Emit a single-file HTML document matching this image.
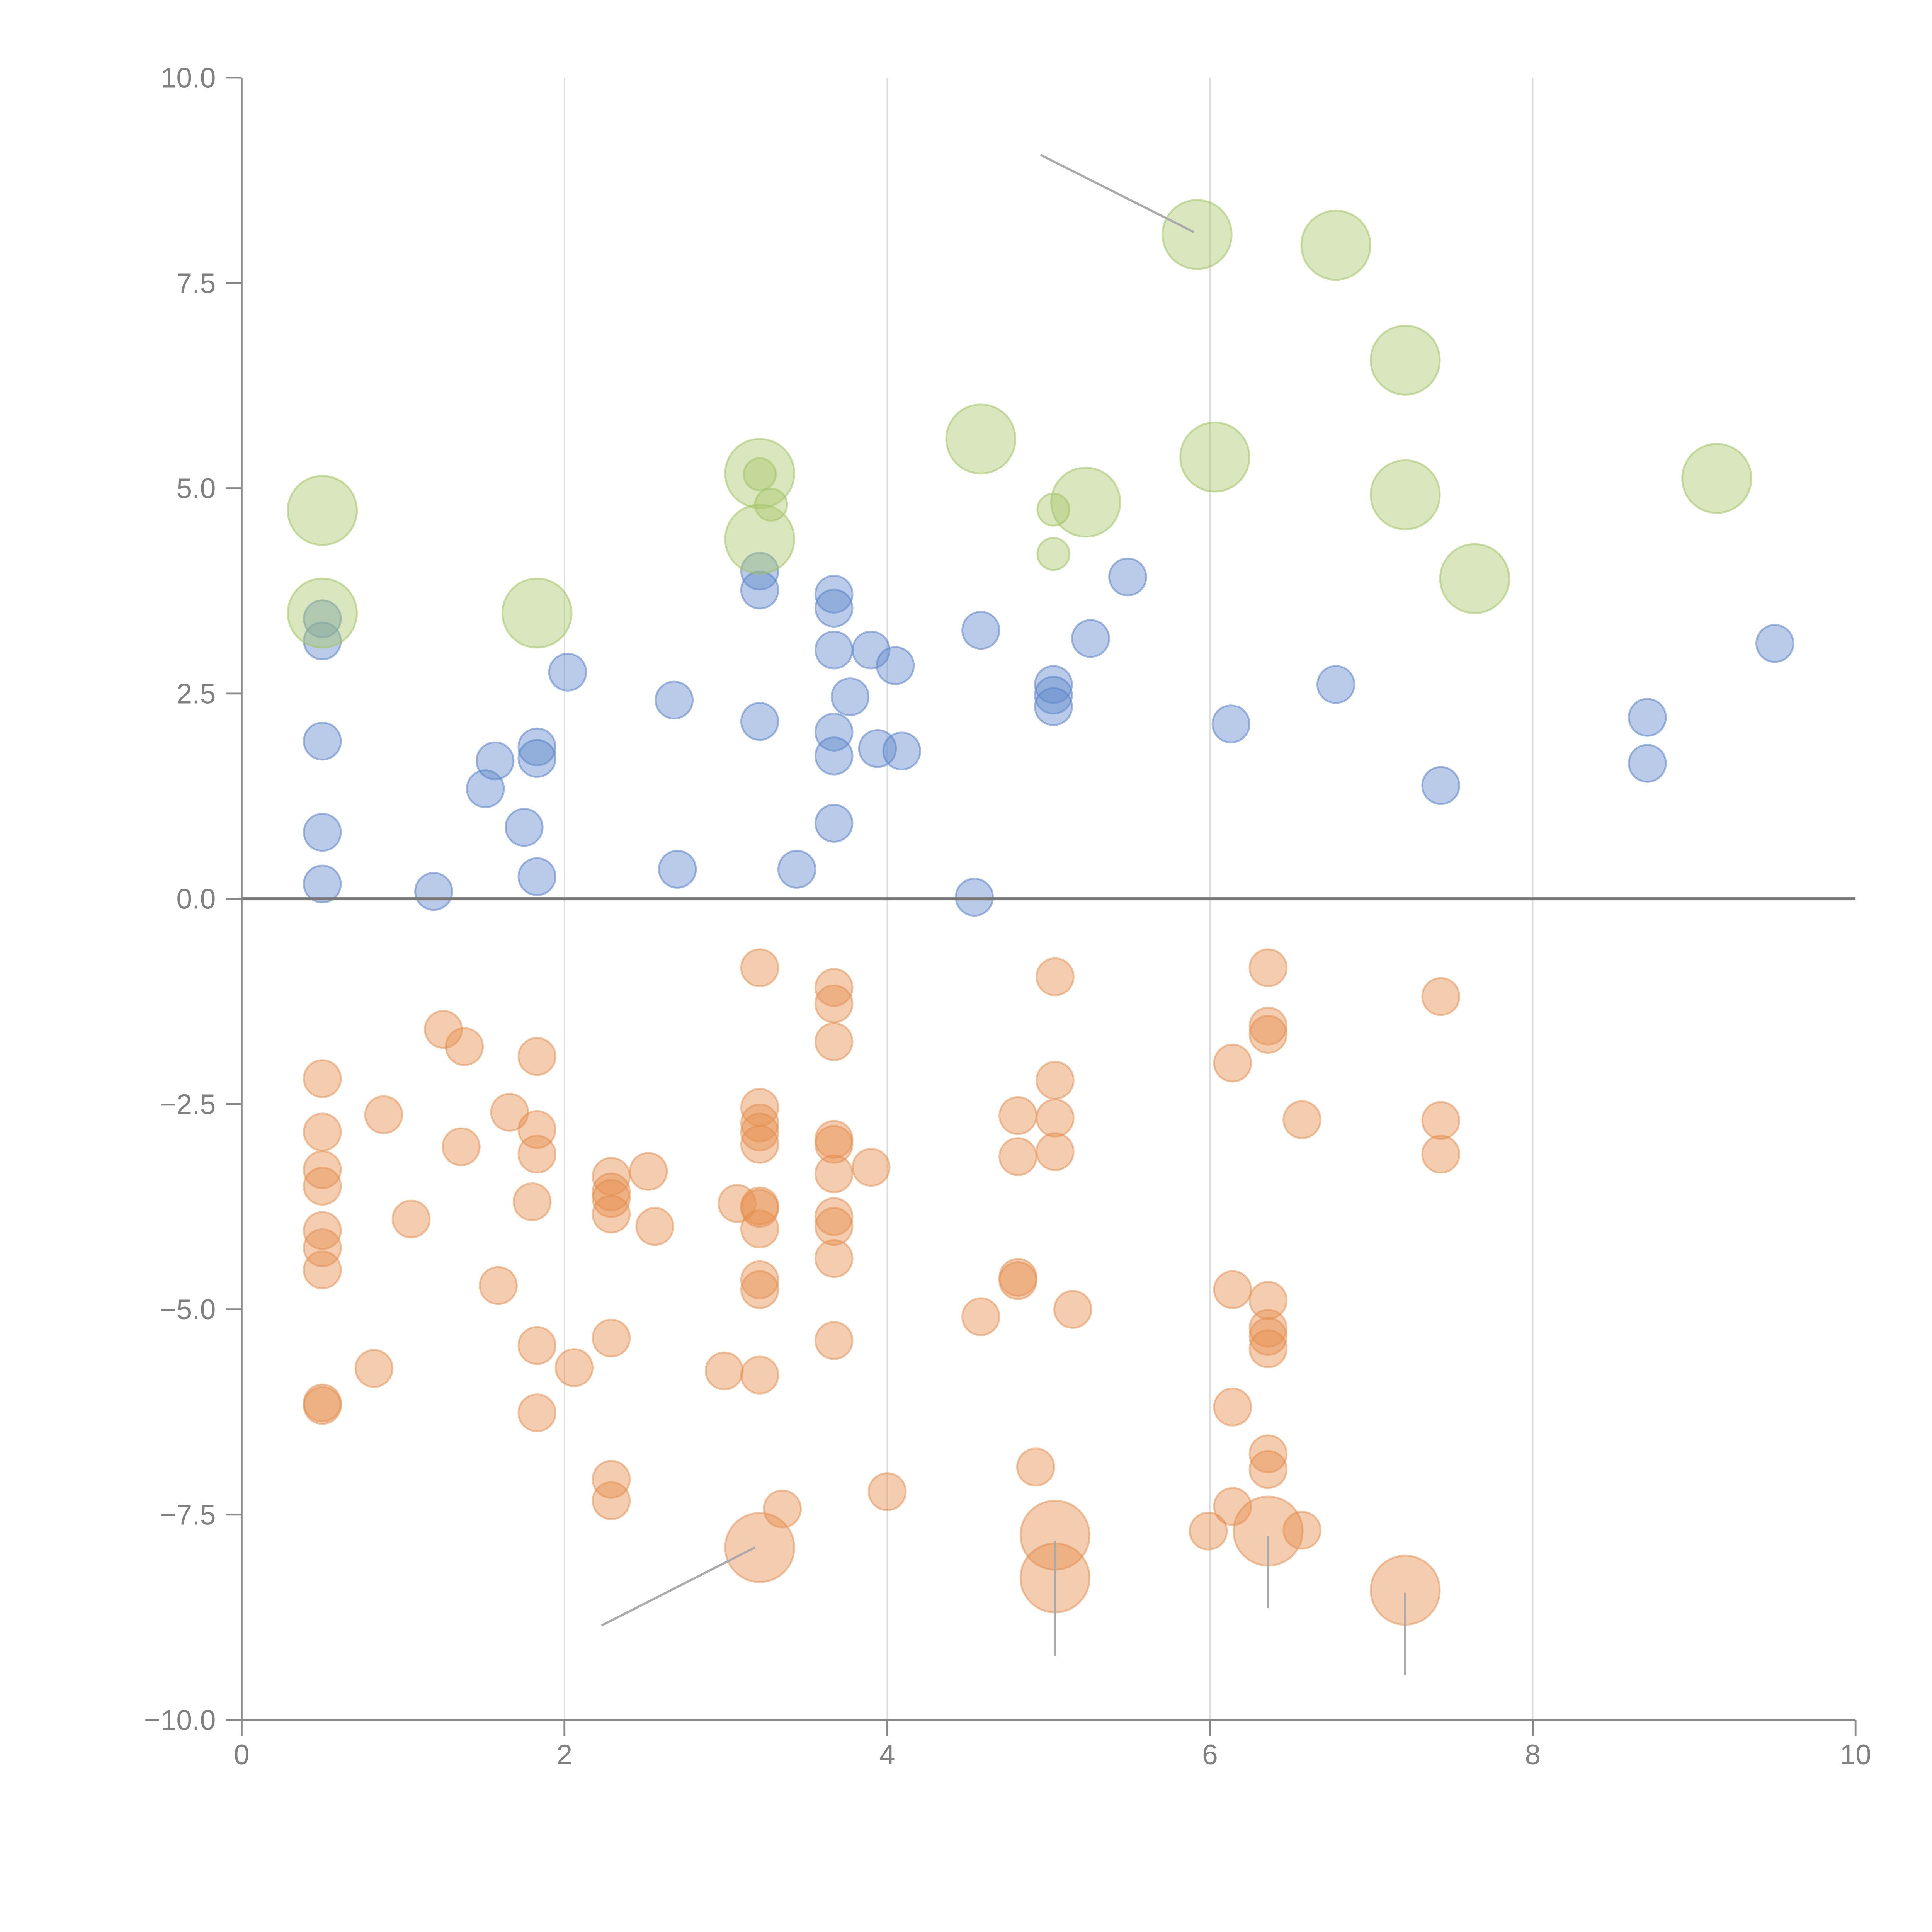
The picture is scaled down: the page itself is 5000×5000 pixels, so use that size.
<!DOCTYPE html>
<html><head><meta charset="utf-8"><style>html,body{margin:0;padding:0;background:#fff}svg{display:block}</style></head>
<body>
<svg id="chart" width="5000" height="5000" viewBox="0 0 1567 1567" xmlns="http://www.w3.org/2000/svg" font-family="Liberation Sans, sans-serif">
<rect width="1567" height="1567" fill="#fff"/>
<g id="grid"></g><g id="marks"></g><g id="axes"></g>
</svg>
<script>
const xTicks=[0,2,4,6,8,10];
const yTicks=[10,7.5,5,2.5,0,-2.5,-5,-7.5,-10];
const yTickLabels=["10.0","7.5","5.0","2.5","0.0","\u22122.5","\u22125.0","\u22127.5","\u221210.0"];
const blueX=[0.5,0.5,0.5,0.5,0.5,1.19,1.51,1.57,1.75,1.83,1.83,1.83,2.02,2.68,2.70,3.21,3.21,3.21,3.44,3.67,3.67,3.67,3.67,3.67,3.67,3.77,3.90,3.94,4.05,4.09,4.54,4.58,5.03,5.03,5.03,5.26,5.49,6.13,6.78,7.43,8.71,8.71,9.50];
const blueY=[3.41,3.14,1.92,0.81,0.18,0.09,1.34,1.68,0.87,1.85,1.71,0.27,2.76,2.42,0.36,3.99,3.76,2.16,0.36,3.71,3.54,3.03,2.03,1.74,0.92,2.46,3.03,1.83,2.84,1.80,0.02,3.27,2.61,2.48,2.34,3.17,3.92,2.13,2.61,1.38,2.21,1.65,3.11];
const greenBigX=[0.5,0.5,1.83,3.21,3.21,4.58,5.23,5.92,6.03,6.78,7.21,7.21,7.64,9.14];
const greenBigY=[4.73,3.48,3.48,5.18,4.38,5.60,4.83,8.09,5.38,7.96,6.56,4.92,3.90,5.12];
const greenSmallX=[3.21,3.28,5.03,5.03];
const greenSmallY=[5.17,4.80,4.74,4.20];
const orangeX=[0.5,0.5,0.5,0.5,0.5,0.5,0.5,0.5,0.5,0.82,0.88,1.05,1.25,1.36,1.38,1.59,1.66,1.80,1.83,1.83,1.83,1.83,1.83,2.06,2.29,2.29,2.29,2.29,2.29,2.29,2.29,2.52,2.56,2.99,3.07,3.21,3.21,3.21,3.21,3.21,3.21,3.21,3.21,3.21,3.21,3.21,3.35,3.67,3.67,3.67,3.67,3.67,3.67,3.67,3.67,3.67,3.67,3.90,4.00,4.58,4.81,4.81,4.81,4.81,4.92,5.04,5.04,5.04,5.04,5.15,5.99,6.14,6.14,6.14,6.14,6.36,6.36,6.36,6.36,6.36,6.36,6.36,6.36,6.36,6.57,6.57,7.43,7.43,7.43];
const orangeY=[-2.19,-2.84,-3.30,-3.50,-4.04,-4.25,-4.52,-6.14,-6.17,-5.72,-2.63,-3.90,-1.59,-3.02,-1.80,-4.71,-2.60,-3.69,-1.92,-2.81,-3.11,-5.44,-6.26,-5.71,-3.38,-3.57,-3.65,-3.84,-5.35,-7.07,-7.33,-3.32,-3.99,-5.75,-3.71,-0.84,-2.54,-2.73,-2.84,-2.99,-3.74,-3.77,-4.02,-4.64,-4.76,-5.80,-7.43,-1.08,-1.28,-1.74,-2.93,-2.99,-3.35,-3.87,-3.99,-4.38,-5.38,-3.27,-7.22,-5.09,-2.64,-3.14,-4.61,-4.65,-6.92,-0.95,-2.21,-2.67,-3.08,-5.00,-7.70,-2.00,-4.76,-6.19,-7.40,-0.84,-1.55,-1.65,-4.89,-5.23,-5.33,-5.48,-6.76,-6.95,-2.69,-7.69,-1.19,-2.70,-3.11];
const orangeBigX=[3.21,5.04,5.04,6.36,7.21];
const orangeBigY=[-7.90,-7.75,-8.27,-7.70,-8.42];
const leaderX1=[4.95,2.23,5.04,6.36,7.21], leaderY1=[9.06,-8.85,-7.82,-7.76,-8.45];
const leaderX2=[5.90,3.18,5.04,6.36,7.21], leaderY2=[8.12,-7.90,-9.22,-8.64,-9.45];

const X0=196,X1=1505,Y0=1395,Y1=63;
const sx=v=>X0+(v-0)/(10-0)*(X1-X0);
const sy=v=>Y0-(v+10)/20*(Y0-Y1);
const NS="http://www.w3.org/2000/svg";
function mk(tag,attrs,parent){const e=document.createElementNS(NS,tag);for(const k in attrs)e.setAttribute(k,attrs[k]);parent.appendChild(e);return e;}
const grid=document.getElementById('grid'),marks=document.getElementById('marks'),axes=document.getElementById('axes');
xTicks.forEach(t=>{if(t>0&&t<10){const l=mk('line',{x1:sx(t),x2:sx(t),y1:Y1,y2:Y0,stroke:'#dcdcdc','stroke-width':1},grid);

}});
function dots(xs,ys,r,fill,stroke,name){xs.forEach((x,i)=>{const c=mk('circle',{cx:sx(x),cy:sy(ys[i]),r:r,fill:fill,stroke:stroke,'stroke-width':1.5},marks);

});}
dots(blueX,blueY,15,'rgba(100,140,205,0.45)','rgba(90,130,200,0.55)','blue-point');
dots(orangeX,orangeY,15,'rgba(230,145,80,0.45)','rgba(225,140,75,0.5)','orange-point');
dots(orangeBigX,orangeBigY,28,'rgba(230,145,80,0.45)','rgba(225,140,75,0.5)','orange-large-point');
dots(greenBigX,greenBigY,28,'rgba(170,200,110,0.45)','rgba(160,195,100,0.55)','green-large-point');
dots(greenSmallX,greenSmallY,13,'rgba(170,200,110,0.45)','rgba(160,195,100,0.55)','green-small-point');
leaderX1.forEach((x,i)=>{const l=mk('line',{x1:sx(x),y1:sy(leaderY1[i]),x2:sx(leaderX2[i]),y2:sy(leaderY2[i]),stroke:'#aaa','stroke-width':1.8},marks);

});
const zl=mk('line',{x1:X0,x2:X1,y1:sy(0),y2:sy(0),stroke:'#777','stroke-width':2.5},axes);


const ya=mk('line',{x1:X0,x2:X0,y1:Y1,y2:Y0,stroke:'#888','stroke-width':1.5},axes);


const xa=mk('line',{x1:X0,x2:X1,y1:Y0,y2:Y0,stroke:'#888','stroke-width':1.5},axes);


yTicks.forEach((t,i)=>{mk('line',{x1:X0-13,x2:X0,y1:sy(t),y2:sy(t),stroke:'#888','stroke-width':1.5},axes);
const tx=mk('text',{x:X0-21,y:sy(t)+8,'text-anchor':'end','font-size':23,fill:'#808080'},axes);tx.textContent=yTickLabels[i];

});
xTicks.forEach(t=>{mk('line',{x1:sx(t),x2:sx(t),y1:Y0,y2:Y0+13,stroke:'#888','stroke-width':1.5},axes);
const tx=mk('text',{x:sx(t),y:Y0+36,'text-anchor':'middle','font-size':23,fill:'#808080'},axes);tx.textContent=String(t);

});
</script>
</body></html>
